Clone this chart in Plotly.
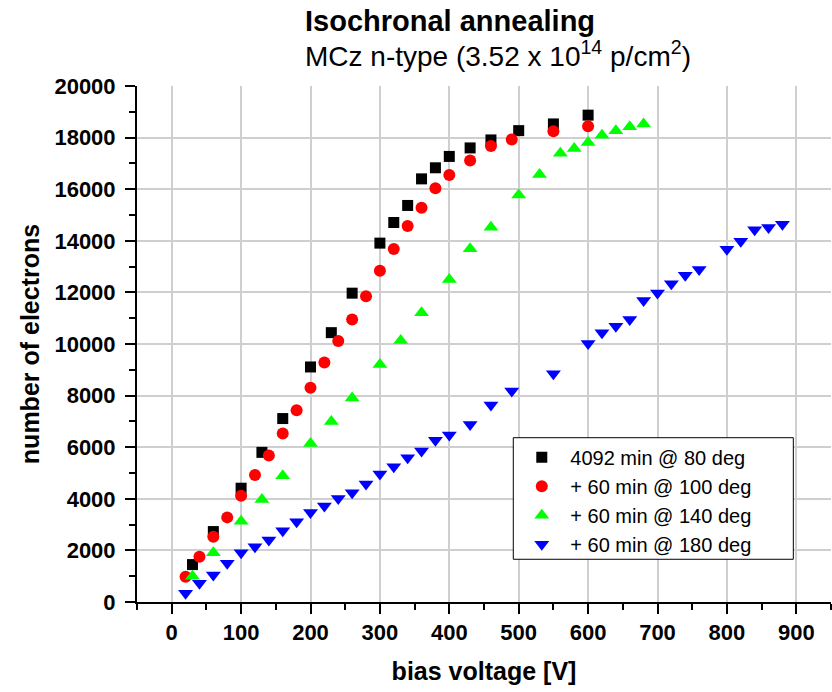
import plotly.graph_objects as go

# Bias voltage [V] and collected charge [electrons] per annealing step
v_80 = [30, 60, 100, 130, 160, 200, 230, 260, 300, 320, 340, 360, 380, 400, 430, 460, 500, 550, 600]
n_80 = [1450, 2730, 4410, 5800, 7110, 9110, 10440, 11970, 13910, 14710, 15370, 16400, 16830, 17270,
        17600, 17910, 18270, 18530, 18870]

v_100 = [20, 40, 60, 80, 100, 120, 140, 160, 180, 200, 220, 240, 260, 280, 300, 320, 340, 360, 380,
         400, 430, 460, 490, 550, 600]
n_100 = [980, 1750, 2530, 3280, 4120, 4920, 5680, 6530, 7430, 8300, 9280, 10120, 10950, 11850, 12840,
         13680, 14570, 15280, 16040, 16550, 17110, 17670, 17930, 18250, 18440]

v_140 = [30, 60, 100, 130, 160, 200, 230, 260, 300, 330, 360, 400, 430, 460, 500, 530, 560, 580, 600,
         620, 640, 660, 680]
n_140 = [1000, 1910, 3130, 3970, 4890, 6140, 7000, 7910, 9210, 10140, 11210, 12500, 13690, 14530,
         15780, 16570, 17390, 17580, 17810, 18090, 18270, 18420, 18530]

v_180 = [20, 40, 60, 80, 100, 120, 140, 160, 180, 200, 220, 240, 260, 280, 300, 320, 340, 360, 380,
         400, 430, 460, 490, 550, 600, 620, 640, 660, 680, 700, 720, 740, 760, 800, 820, 840, 860, 880]
n_180 = [340, 730, 1050, 1500, 1910, 2140, 2400, 2760, 3110, 3470, 3720, 4010, 4230, 4570, 4960, 5240,
         5590, 5850, 6270, 6470, 6880, 7640, 8180, 8850, 10020, 10440, 10690, 10950, 11690, 11980,
         12340, 12660, 12890, 13670, 13980, 14430, 14520, 14640]

series_names = ["4092 min @ 80 deg", "+ 60 min @ 100 deg", "+ 60 min @ 140 deg", "+ 60 min @ 180 deg"]

FONT = "Arial, Liberation Sans, sans-serif"
X_RANGE = [-50, 950]
Y_RANGE = [0, 20000]

# legend frame in paper coordinates
LEG_X0, LEG_X1 = 0.5422, 0.9457
LEG_Y0, LEG_Y1 = 0.0828, 0.3184

fig = go.Figure()

styles = [
    (v_80, n_80, "square", "#000000", 11),
    (v_100, n_100, "circle", "#ff0000", 12),
    (v_140, n_140, "triangle-up", "#00ff00", 13),
    (v_180, n_180, "triangle-down", "#0000ff", 13),
]
for (vx, ny, sym, col, sz), name in zip(styles, series_names):
    fig.add_trace(go.Scatter(
        x=vx, y=ny, mode="markers", name=name,
        marker=dict(symbol=sym, color=col, size=sz, line=dict(width=0)),
    ))

fig.update_layout(
    width=832, height=692,
    margin=dict(l=137, r=1, t=86, b=90),
    paper_bgcolor="white", plot_bgcolor="white",
    font=dict(family=FONT, color="black"),
    showlegend=True,
    legend=dict(
        x=LEG_X0, y=LEG_Y1, xanchor="left", yanchor="top",
        borderwidth=0, bgcolor="rgba(0,0,0,0)",
        font=dict(family=FONT, size=20, color="black"),
        itemwidth=47, tracegroupgap=0,
    ),
    xaxis=dict(
        range=X_RANGE, tick0=0, dtick=100, tickformat="d",
        ticks="outside", ticklen=10, tickwidth=2, tickcolor="black",
        minor=dict(dtick=50, tick0=0, ticks="outside", ticklen=6, tickwidth=2, tickcolor="black"),
        showgrid=True, gridcolor="#cfcfcf", gridwidth=1.5, zeroline=False,
        showline=True, linewidth=2, linecolor="black",
        tickfont=dict(family=FONT, size=22, weight="bold"),
        title=dict(text="bias voltage [V]", font=dict(family=FONT, size=25, weight="bold"), standoff=18),
    ),
    yaxis=dict(
        range=Y_RANGE, tick0=0, dtick=2000, tickformat="d",
        ticks="outside", ticklen=10, tickwidth=2, tickcolor="black",
        minor=dict(dtick=1000, tick0=0, ticks="outside", ticklen=6, tickwidth=2, tickcolor="black"),
        showgrid=True, gridcolor="#cfcfcf", gridwidth=1.5, zeroline=False,
        showline=True, linewidth=2, linecolor="black",
        tickfont=dict(family=FONT, size=22, weight="bold"), ticklabelstandoff=5,
        title=dict(text="number of electrons", font=dict(family=FONT, size=25, weight="bold"), standoff=8),
    ),
    # frame on top and right with inward ticks
    xaxis2=dict(
        range=X_RANGE, overlaying="x", anchor="y", side="top", tick0=0, dtick=100,
        ticks="inside", ticklen=11, tickwidth=2, tickcolor="black",
        minor=dict(dtick=50, tick0=0, ticks="inside", ticklen=6, tickwidth=2, tickcolor="black"),
        showticklabels=False, showgrid=False, zeroline=False,
        showline=True, linewidth=2, linecolor="black",
    ),
    yaxis2=dict(
        range=Y_RANGE, overlaying="y", anchor="x", side="right", tick0=0, dtick=2000,
        ticks="inside", ticklen=10, tickwidth=2, tickcolor="black",
        minor=dict(dtick=1000, tick0=0, ticks="inside", ticklen=5, tickwidth=2, tickcolor="black"),
        showticklabels=False, showgrid=False, zeroline=False,
        showline=True, linewidth=2, linecolor="black",
    ),
)

# white legend frame with a thin black border
fig.add_shape(
    type="rect", xref="paper", yref="paper",
    x0=LEG_X0, x1=LEG_X1, y0=LEG_Y0, y1=LEG_Y1,
    line=dict(color="black", width=1), fillcolor="white", layer="above",
)

fig.add_annotation(
    text="Isochronal annealing", xref="paper", yref="paper",
    x=0.2392, y=1.0, xanchor="left", yanchor="bottom", yshift=47, showarrow=False,
    font=dict(family=FONT, size=29, weight="bold", color="black"),
)
fig.add_annotation(
    text="MCz n-type (3.52 x 10<sup>14</sup> p/cm<sup>2</sup>)", xref="paper", yref="paper",
    x=0.2392, y=1.0, xanchor="left", yanchor="bottom", yshift=12, showarrow=False,
    font=dict(family=FONT, size=28, color="black"),
)

fig.write_html("out.html")
